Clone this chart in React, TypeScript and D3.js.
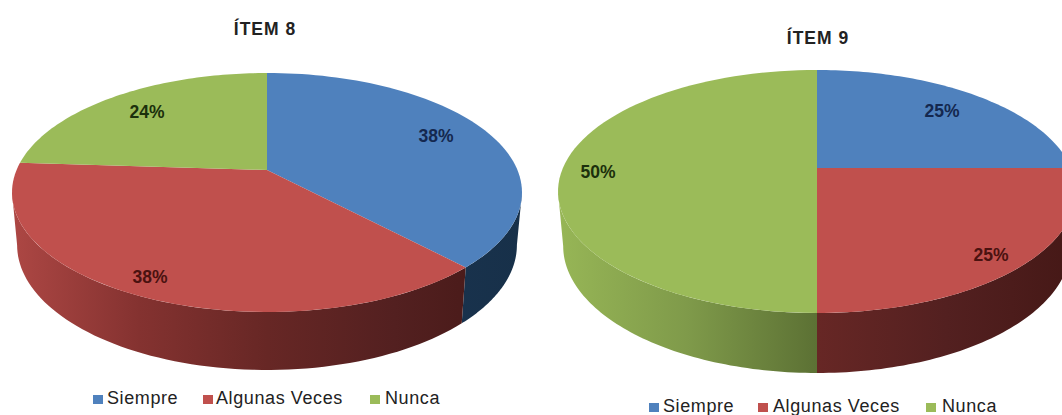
import React from "react";
import * as d3 from "d3";

// Series values, in percent
const categories = ["Siempre", "Algunas Veces", "Nunca"];
const item8Values = [38, 38, 24];
const item9Values = [25, 25, 50];

const faceColors = ["#4f81bd", "#c0504d", "#9bbb59"];
const labelColors = ["#14284f", "#4a1210", "#1c300c"];

// Stops of the side wall shading, left to right across each pie
const wallStops = [
  ["#3a6491", "#2a4a70", "#1f3d5e", "#1a3450", "#173049"],
  ["#ad4744", "#843230", "#672725", "#532020", "#451816"],
  ["#97b656", "#7f9a4a", "#5c7134", "#4e602c", "#445426"],
];

type PieLayout = {
  id: string;
  title: string;
  titleX: number;
  titleY: number;
  values: number[];
  cx: number;
  apexY: number;
  topY: number;
  frontY: number;
  wallY: number;
  halfWidth: number;
  labels: [number, number][];
  legendY: number;
  legendSwatchX: number[];
  legendTextX: number[];
};

const pies: PieLayout[] = [
  {
    id: "i8",
    title: "ÍTEM 8",
    titleX: 265,
    titleY: 35,
    values: item8Values,
    cx: 267,
    apexY: 170,
    topY: 73,
    frontY: 312,
    wallY: 370,
    halfWidth: 255,
    labels: [
      [436, 142],
      [150, 283],
      [147, 118],
    ],
    legendY: 404,
    legendSwatchX: [93, 203, 370],
    legendTextX: [107, 216, 385],
  },
  {
    id: "i9",
    title: "ÍTEM 9",
    titleX: 818,
    titleY: 44,
    values: item9Values,
    cx: 817,
    apexY: 168,
    topY: 70,
    frontY: 313,
    wallY: 373,
    halfWidth: 259,
    labels: [
      [942, 117],
      [991, 261],
      [598, 178],
    ],
    legendY: 412,
    legendSwatchX: [649, 758, 926],
    legendTextX: [663, 773, 942],
  },
];

const SANS = "'Liberation Sans', Arial, sans-serif";
// The base disc is slightly narrower and slightly deeper than the top disc
const BASE_SCALE_X = 0.98;
const BASE_SCALE_Y = 1.046;

// Perspective projection of a tilted disc: a far edge smaller than the near edge
function projector(p: PieLayout) {
  const far = p.apexY - p.topY;
  const near = p.frontY - p.apexY;
  const k = (near - far) / (near + far);
  const sy = far * (1 + k);
  const sx = p.halfWidth * Math.sqrt(1 - k * k);
  const top = (a: number): [number, number] => {
    const w = 1 + k * Math.cos(a);
    return [p.cx + (sx * Math.sin(a)) / w, p.apexY - (sy * Math.cos(a)) / w];
  };
  const baseApex = p.wallY - (BASE_SCALE_Y * sy) / (1 - k);
  const bottom = (a: number): [number, number] => {
    const w = 1 + k * Math.cos(a);
    return [
      p.cx + (BASE_SCALE_X * sx * Math.sin(a)) / w,
      baseApex - (BASE_SCALE_Y * sy * Math.cos(a)) / w,
    ];
  };
  // Angles of the silhouette's left and right extremes; the wall shows only between them
  const rightExtreme = Math.acos(-k);
  const leftExtreme = 2 * Math.PI - rightExtreme;
  return { top, bottom, rightExtreme, leftExtreme };
}

const line = d3.line();

function Pie({ p }: { p: PieLayout }) {
  const arcs = d3
    .pie<number>()
    .sort(null)
    .startAngle(0)
    .endAngle(2 * Math.PI)(p.values);
  const { top, bottom, rightExtreme, leftExtreme } = projector(p);
  const sweep = (a0: number, a1: number) =>
    d3.range(0, 73).map((i) => a0 + ((a1 - a0) * i) / 72);
  const gradX = d3
    .scaleLinear()
    .domain([0, 1])
    .range([p.cx - p.halfWidth, p.cx + p.halfWidth]);

  return (
    <g>
      <defs>
        {wallStops.map((stops, i) => (
          <linearGradient
            key={i}
            id={`${p.id}-wall-${i}`}
            gradientUnits="userSpaceOnUse"
            x1={gradX(0)}
            x2={gradX(1)}
            y1={0}
            y2={0}
          >
            {stops.map((c, j) => (
              <stop key={j} offset={j / (stops.length - 1)} stopColor={c} />
            ))}
          </linearGradient>
        ))}
      </defs>
      <text
        x={p.titleX}
        y={p.titleY}
        textAnchor="middle"
        fontFamily={SANS}
        fontWeight="bold"
        fontSize={17.5}
        letterSpacing={1}
        fill="#222"
      >
        {p.title}
      </text>
      {arcs.map((a, i) => {
        const a0 = Math.max(a.startAngle, rightExtreme);
        const a1 = Math.min(a.endAngle, leftExtreme);
        if (a0 >= a1) return null;
        const angles = sweep(a0, a1);
        const wall = [...angles.map(top), ...angles.slice().reverse().map(bottom)];
        return (
          <path key={i} d={line(wall) + "Z"} fill={`url(#${p.id}-wall-${i})`} />
        );
      })}
      {arcs.map((a, i) => {
        const rim = sweep(a.startAngle, a.endAngle).map(top);
        const face: [number, number][] = [[p.cx, p.apexY], ...rim];
        return <path key={i} d={line(face) + "Z"} fill={faceColors[i]} />;
      })}
      {p.values.map((v, i) => (
        <text
          key={i}
          x={p.labels[i][0]}
          y={p.labels[i][1]}
          textAnchor="middle"
          fontFamily={SANS}
          fontWeight="bold"
          fontSize={17.5}
          fill={labelColors[i]}
        >
          {v}%
        </text>
      ))}
      {categories.map((c, i) => (
        <g key={c}>
          <rect
            x={p.legendSwatchX[i]}
            y={p.legendY - 9}
            width={10}
            height={9}
            fill={faceColors[i]}
          />
          <text
            x={p.legendTextX[i]}
            y={p.legendY}
            fontFamily={SANS}
            fontSize={18}
            letterSpacing={0.6}
            fill="#222"
          >
            {c}
          </text>
        </g>
      ))}
    </g>
  );
}

export default function App() {
  return (
    <svg
      width={1062}
      height={415}
      viewBox="0 0 1062 415"
      style={{ position: "absolute", left: 0, top: 0, background: "#fff" }}
    >
      {pies.map((p) => (
        <Pie key={p.id} p={p} />
      ))}
    </svg>
  );
}
